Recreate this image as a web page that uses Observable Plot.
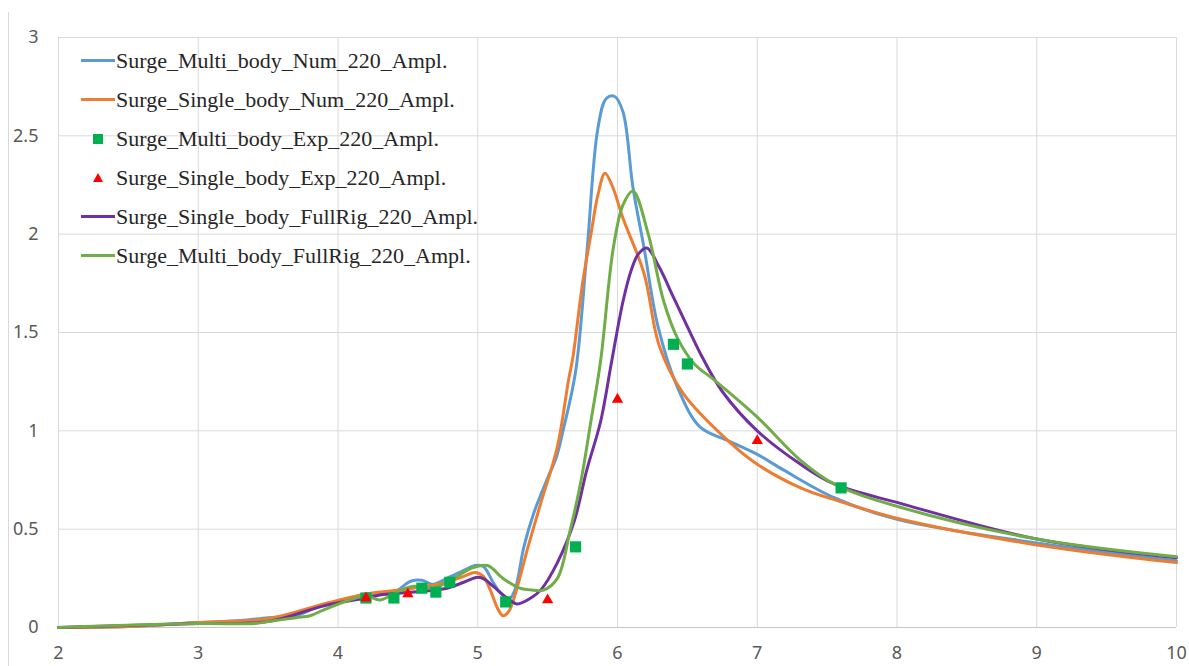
<!DOCTYPE html>
<html>
<head>
<meta charset="utf-8">
<script src="https://cdn.jsdelivr.net/npm/d3@7"></script>
<script src="https://cdn.jsdelivr.net/npm/@observablehq/plot@0.6"></script>
<style>
  html, body { margin: 0; padding: 0; background: #fff; }
  #wrap { position: relative; width: 1189px; height: 666px; overflow: hidden; }
  #edge { position: absolute; left: 8px; top: 12px; bottom: 0; border-left: 1px solid #d9d9d9; }
  #legend { position: absolute; left: 81px; top: 41px; font-family: "Liberation Serif", "Times New Roman", serif; font-size: 22px; color: #262626; }
  .item { height: 39px; display: flex; align-items: center; white-space: nowrap; }
  .sw { width: 34px; height: 20px; display: flex; align-items: center; justify-content: center; margin-right: 1px; }
  .ln { width: 34px; height: 3px; }
</style>
</head>
<body>
<div id="wrap">
  <div id="edge"></div>
  <div id="chart"></div>
  <div id="legend"></div>
</div>
<script>
// ---- data ----
const seriesNames = [
  "Surge_Multi_body_Num_220_Ampl.",
  "Surge_Single_body_Num_220_Ampl.",
  "Surge_Multi_body_Exp_220_Ampl.",
  "Surge_Single_body_Exp_220_Ampl.",
  "Surge_Single_body_FullRig_220_Ampl.",
  "Surge_Multi_body_FullRig_220_Ampl."
];
const xTicks = [2, 3, 4, 5, 6, 7, 8, 9, 10];
const yTicks = [0, 0.5, 1, 1.5, 2, 2.5, 3];

const multiNum = [[2,0],[2.5,0.005],[3,0.025],[3.3,0.035],[3.5,0.05],[3.7,0.06],[3.9,0.12],[4.0,0.13],[4.2,0.17],[4.4,0.18],[4.52,0.235],[4.6,0.24],[4.68,0.22],[4.78,0.25],[4.9,0.29],[4.98,0.315],[5.04,0.31],[5.11,0.23],[5.17,0.17],[5.23,0.15],[5.27,0.2],[5.33,0.41],[5.4,0.58],[5.5,0.76],[5.56,0.86],[5.61,1.0],[5.7,1.3],[5.78,1.9],[5.86,2.54],[5.92,2.69],[5.98,2.7],[6.04,2.62],[6.11,2.24],[6.19,1.93],[6.29,1.53],[6.43,1.22],[6.59,1.02],[6.79,0.95],[7.0,0.88],[7.19,0.8],[7.55,0.66],[8.0,0.55],[9.0,0.43],[10,0.34]];
const singleNum = [[2,0],[2.5,0.005],[3,0.025],[3.5,0.045],[3.9,0.12],[4.2,0.17],[4.3,0.18],[4.54,0.2],[4.78,0.23],[4.9,0.26],[4.98,0.28],[5.04,0.26],[5.09,0.19],[5.14,0.1],[5.18,0.06],[5.22,0.08],[5.26,0.15],[5.36,0.41],[5.45,0.63],[5.57,0.92],[5.65,1.26],[5.68,1.37],[5.75,1.75],[5.81,2.0],[5.86,2.2],[5.91,2.31],[5.96,2.25],[6.04,2.08],[6.19,1.8],[6.3,1.43],[6.47,1.19],[6.79,0.95],[7.0,0.83],[7.31,0.71],[7.55,0.65],[8.03,0.55],[9,0.42],[10,0.33]];
const singleFullRig = [[2,0],[3,0.02],[3.5,0.03],[3.9,0.11],[4.2,0.15],[4.3,0.165],[4.54,0.18],[4.78,0.2],[4.9,0.23],[5.0,0.255],[5.05,0.245],[5.11,0.21],[5.21,0.15],[5.28,0.12],[5.38,0.15],[5.45,0.19],[5.57,0.33],[5.69,0.54],[5.78,0.8],[5.88,1.05],[5.96,1.36],[6.04,1.66],[6.1,1.82],[6.15,1.9],[6.21,1.93],[6.3,1.83],[6.4,1.68],[6.5,1.53],[6.61,1.37],[6.75,1.2],[7.0,1.0],[7.31,0.83],[7.55,0.73],[8.03,0.63],[9,0.45],[10,0.355]];
const multiFullRig = [[2,0],[3,0.02],[3.4,0.02],[3.5,0.03],[3.7,0.05],[3.8,0.06],[3.9,0.09],[4.2,0.16],[4.3,0.14],[4.45,0.19],[4.54,0.21],[4.68,0.2],[4.83,0.25],[4.95,0.3],[5.07,0.315],[5.18,0.25],[5.3,0.2],[5.4,0.19],[5.47,0.19],[5.57,0.25],[5.66,0.49],[5.74,0.75],[5.81,1.05],[5.88,1.36],[5.97,1.93],[6.04,2.15],[6.11,2.22],[6.22,2.0],[6.33,1.66],[6.43,1.47],[6.55,1.34],[6.69,1.26],[7.0,1.07],[7.31,0.85],[7.55,0.73],[8.03,0.61],[9,0.45],[10,0.36]];
const multiExp = [[4.2,0.15],[4.4,0.15],[4.6,0.2],[4.7,0.18],[4.8,0.23],[5.2,0.13],[5.7,0.41],[6.4,1.44],[6.5,1.34],[7.6,0.71]];
const singleExp = [[4.2,0.15],[4.5,0.17],[5.5,0.14],[6.0,1.16],[7.0,0.95]];

const colors = ["#5B9BD5", "#ED7D31", "#00B050", "#FF0000", "#7030A0", "#70AD47"];

// ---- build ----
const toObj = (arr, s) => arr.map(([x, y]) => ({x, y, s}));
const lineSeries = [
  {data: toObj(multiNum, seriesNames[0]), color: colors[0]},
  {data: toObj(singleNum, seriesNames[1]), color: colors[1]},
  {data: toObj(singleFullRig, seriesNames[4]), color: colors[4]},
  {data: toObj(multiFullRig, seriesNames[5]), color: colors[5]}
];
const axisFont = "Noto Sans, Open Sans, sans-serif";

const chart = Plot.plot({
  width: 1189,
  height: 666,
  marginLeft: 58,
  marginRight: 13,
  marginTop: 37,
  marginBottom: 39,
  style: {background: "transparent", fontFamily: axisFont, fontSize: "18px", color: "#595959", overflow: "visible"},
  x: {domain: [2, 10]},
  y: {domain: [0, 3]},
  marks: [
    Plot.gridX(xTicks, {stroke: "#d9d9d9", strokeOpacity: 1, strokeWidth: 1}),
    Plot.gridY(yTicks, {stroke: "#d9d9d9", strokeOpacity: 1, strokeWidth: 1}),
    Plot.ruleY([0], {stroke: "#c8c8c8", strokeWidth: 1}),
    ...lineSeries.map(s => Plot.line(s.data, {x: "x", y: "y", stroke: s.color, strokeWidth: 3, curve: "catmull-rom"})),
    Plot.dot(toObj(multiExp, seriesNames[2]), {x: "x", y: "y", symbol: "square", r: 6.3, fill: colors[2], stroke: "none"}),
    Plot.dot(toObj(singleExp, seriesNames[3]), {x: "x", y: "y", symbol: "triangle", r: 4.2, fill: colors[3], stroke: "none"}),
    Plot.axisX(xTicks, {tickSize: 0, tickPadding: 19, fontSize: 18, fill: "#595959", label: null, tickFormat: d => String(d)}),
    Plot.axisY(yTicks, {tickSize: 0, tickPadding: 20, fontSize: 18, fill: "#595959", label: null, tickFormat: d => String(d)})
  ]
});
document.getElementById("chart").appendChild(chart);

// ---- legend ----
const legend = document.getElementById("legend");
const kinds = ["line", "line", "square", "triangle", "line", "line"];
seriesNames.forEach((name, i) => {
  const item = document.createElement("div");
  item.className = "item";
  const sw = document.createElement("div");
  sw.className = "sw";
  if (kinds[i] === "line") {
    const l = document.createElement("div");
    l.className = "ln";
    l.style.background = colors[i];
    sw.appendChild(l);
  } else if (kinds[i] === "square") {
    sw.innerHTML = `<svg width="12" height="12"><rect x="1" y="1" width="10" height="10" fill="${colors[i]}"/></svg>`;
  } else {
    sw.innerHTML = `<svg width="12" height="12"><polygon points="6,1 11,10 1,10" fill="${colors[i]}"/></svg>`;
  }
  const t = document.createElement("span");
  t.textContent = name;
  item.appendChild(sw);
  item.appendChild(t);
  legend.appendChild(item);
});
</script>
</body>
</html>
